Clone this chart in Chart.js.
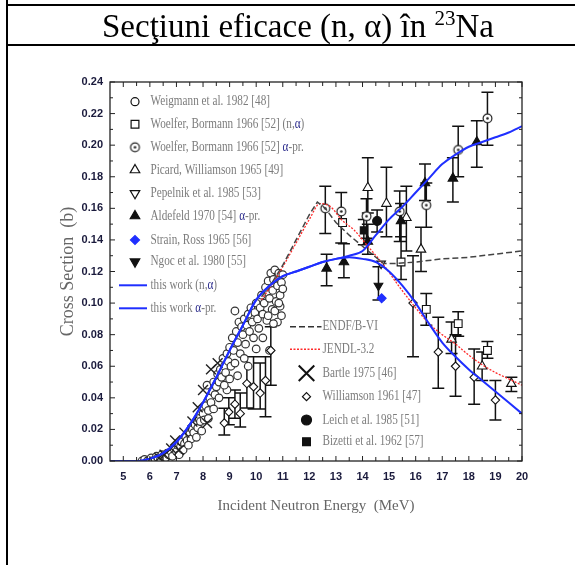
<!DOCTYPE html>
<html>
<head>
<meta charset="utf-8">
<script src="https://cdn.jsdelivr.net/npm/chart.js@4.4.0/dist/chart.umd.min.js"></script>
<style>
  html, body { margin: 0; padding: 0; background: #fff; }
  body { width: 575px; height: 565px; position: relative; overflow: hidden; }
  #chart { position: absolute; left: 0; top: 0; }
  .vline { position: absolute; left: 6px; top: 0; width: 2px; height: 565px; background: #000; }
  .hline { position: absolute; left: 6px; width: 569px; height: 2px; background: #000; }
  .title { position: absolute; left: 8px; width: 580px; top: 10px; text-align: center;
           font: 33px/32px "Liberation Serif", "Times New Roman", serif; color: #000; white-space: nowrap; }
  .title sup { font-size: 21px; vertical-align: 0; position: relative; top: -12px; }
</style>
</head>
<body>
<canvas id="chart" width="575" height="565"></canvas>
<div class="vline"></div>
<div class="hline" style="top:4px"></div>
<div class="hline" style="top:44px"></div>
<div class="title">Secţiuni eficace (n, α) în <sup>23</sup>Na</div>
<script>
// Curves
const workX = [4.5, 5.0, 5.5, 6.0, 6.5, 7.0, 7.5, 8.0, 8.5, 9.0, 9.5, 10.0, 10.5, 11.0, 11.5, 12.0,
  12.5, 13.0, 13.5, 14.0, 14.5, 15.0, 15.5, 16.0, 16.5, 17.0, 17.5, 18.0, 18.5, 19.0, 19.5, 20.0];
const workNA = [0, 0, 0, 0.0015, 0.005, 0.012, 0.023, 0.037, 0.053, 0.070, 0.086, 0.102, 0.111, 0.117,
  0.120, 0.123, 0.126, 0.128, 0.129, 0.128, 0.126, 0.120, 0.111, 0.100, 0.087, 0.075, 0.066, 0.058,
  0.051, 0.044, 0.037, 0.030];
const workAP = [0, 0, 0, 0.0015, 0.005, 0.012, 0.023, 0.037, 0.053, 0.070, 0.086, 0.102, 0.111, 0.117,
  0.120, 0.123, 0.126, 0.128, 0.130, 0.133, 0.143, 0.153, 0.161, 0.170, 0.179, 0.188, 0.194, 0.199,
  0.202, 0.205, 0.208, 0.212];
const endfX = [10.2, 10.6, 11.0, 11.5, 12.0, 12.3, 12.6, 13.0, 13.5, 14.0, 14.5, 14.8, 15.2, 16.0, 17.0, 18.0, 19.0, 20.0];
const endfY = [0.104, 0.113, 0.124, 0.140, 0.156, 0.164, 0.160, 0.151, 0.143, 0.136, 0.129, 0.125, 0.125,
  0.126, 0.128, 0.129, 0.131, 0.133];
const jendlX = [10.2, 10.6, 11.0, 11.5, 12.0, 12.4, 12.8, 13.2, 13.7, 14.2, 14.8, 15.4, 16.0, 16.5, 17.0,
  17.5, 18.0, 18.5, 19.0, 19.5, 20.0];
const jendlY = [0.102, 0.112, 0.123, 0.138, 0.153, 0.163, 0.161, 0.153, 0.146, 0.136, 0.124, 0.110, 0.097,
  0.087, 0.080, 0.074, 0.067, 0.061, 0.056, 0.052, 0.048];

// Measurements [x, y] or [x, y, low, high]
const weigmann = [[5.7,0.000],[5.8,0.001],[5.9,0.000],[6.0,0.001],[6.05,0.002],[6.1,0.000],[6.2,0.001],
  [6.25,0.003],[6.3,0.002],[6.4,0.001],[6.45,0.004],[6.5,0.003],[6.6,0.002],[6.65,0.005],[6.7,0.004],
  [6.8,0.006],[6.85,0.003],[6.9,0.008],[7.0,0.006],[7.05,0.010],[7.1,0.004],[7.15,0.009],[7.2,0.012],
  [7.3,0.011],[7.35,0.015],[7.4,0.013],[7.5,0.017],[7.55,0.014],[7.6,0.020],[7.65,0.018],[7.7,0.023],
  [7.8,0.021],[7.85,0.027],[7.9,0.025],[8.0,0.030],[8.05,0.026],[8.1,0.035],[8.15,0.048],[8.2,0.032],
  [8.25,0.040],[8.3,0.037],[8.35,0.044],[8.4,0.050],[8.45,0.042],[8.5,0.047],[8.55,0.055],[8.6,0.050],
  [8.65,0.058],[8.7,0.053],[8.75,0.065],[8.8,0.060],[8.85,0.056],[8.9,0.068],[8.95,0.063],[9.0,0.072],
  [9.05,0.060],[9.1,0.078],[9.15,0.070],[9.2,0.095],[9.25,0.082],[9.3,0.075],[9.35,0.088],[9.4,0.068],
  [9.45,0.085],[9.5,0.080],[9.55,0.090],[9.6,0.074],[9.65,0.086],[9.7,0.093],[9.75,0.082],[9.8,0.097],
  [9.85,0.088],[9.9,0.078],[9.95,0.094],[10.0,0.100],[10.05,0.090],[10.1,0.084],[10.15,0.097],
  [10.2,0.105],[10.25,0.093],[10.3,0.100],[10.35,0.110],[10.4,0.089],[10.45,0.114],[10.5,0.103],
  [10.55,0.119],[10.6,0.096],[10.62,0.108],[10.65,0.115],[10.7,0.121],[10.75,0.101],[10.8,0.111],
  [10.85,0.119],[10.9,0.105],[10.95,0.113],[11.0,0.109],[10.8,0.088],[10.5,0.070],[9.7,0.060],
  [9.3,0.054],[10.25,0.078],[10.0,0.071],[8.9,0.045],[9.55,0.065],[10.45,0.092],[10.7,0.095],
  [10.9,0.098],[11.0,0.118],[10.95,0.092],[10.85,0.100],[10.65,0.087],[7.25,0.007],[7.45,0.010],
  [7.75,0.015],[7.95,0.019],[8.2,0.027],[8.4,0.033],[8.6,0.040],[8.8,0.048],[9.0,0.052],[9.2,0.062]];
const woelferNA = [[13.25,0.151,null,null],[15.45,0.126,0.115,0.142],[16.4,0.096,0.086,0.106],
  [17.6,0.087,0.079,0.0945],[18.7,0.070,0.065,0.0756]];
const woelferAP = [[12.6,0.160,0.144,0.174],[13.2,0.158,0.138,0.170],[14.15,0.155,0.141,0.166],
  [15.4,0.158,0.139,0.171],[16.4,0.162,0.148,0.176],[17.6,0.197,0.180,0.212],[18.7,0.217,0.200,0.2335]];
const picard = [[14.2,0.173,0.157,0.192],[14.9,0.163,0.142,0.186],[15.65,0.154,0.133,0.174],
  [16.2,0.134,0.120,0.148],[17.35,0.077,0.068,0.088],[18.5,0.060,0.051,0.069],[19.6,0.049,0.044,0.053]];
const pepelnik = [[14.7,0.125,null,null]];
const aldefeld = [[12.65,0.122,0.111,0.131],[13.3,0.126,0.116,0.1375],[14.2,0.139,0.131,0.150],
  [15.45,0.152,0.139,0.163],[16.35,0.176,0.165,0.188],[17.4,0.179,0.164,0.192],[18.3,0.202,0.186,0.2155]];
const strainRoss = [[14.72,0.103,null,null]];
const ngoc = [[14.6,0.111,0.102,0.123]];
const bartle = [[6.35,0.002],[6.55,0.004],[6.8,0.008],[6.95,0.013],[7.1,0.007],[7.3,0.018],[7.6,0.025],
  [7.8,0.034],[8.0,0.045],[8.15,0.024],[8.3,0.058],[8.55,0.062]];
const williamson = [[8.8,0.024,0.0165,0.0334],[8.97,0.031,0.023,0.040],[9.2,0.036,0.027,0.045],
  [9.4,0.030,0.0215,0.043],[9.65,0.049,0.0335,0.066],[9.9,0.047,0.033,0.066],[10.15,0.043,0.033,0.062],
  [10.35,0.051,0.028,0.066],[10.55,0.070,0.048,0.085],[15.9,0.100,0.066,0.130],[16.85,0.069,0.046,0.091],
  [17.5,0.060,0.041,0.080],[18.2,0.053,0.036,0.071],[19.0,0.0386,0.026,0.051]];
const leich = [[14.55,0.152,0.145,0.159]];
const bizetti = [[14.05,0.146,0.137,0.153]];

// Axis
const xMin = 4.5, xMax = 20, xStep = 1;
const yMin = 0, yMax = 0.24, yStep = 0.02;

function pts(list) { return list.map(p => ({ x: p[0], y: p[1] })); }
function errs(list) { return list.map(p => [p[2], p[3]]); }
function curve(xs, ys) { return xs.map((v, i) => ({ x: v, y: ys[i] })); }

function dotCircle(r) {
  const c = document.createElement("canvas");
  const s = Math.ceil(2 * r + 4);
  c.width = s; c.height = s;
  const g = c.getContext("2d");
  g.fillStyle = "#fff"; g.strokeStyle = "#222"; g.lineWidth = 1.2;
  g.beginPath(); g.arc(s / 2, s / 2, r, 0, 2 * Math.PI); g.fill(); g.stroke();
  g.fillStyle = "#222";
  g.beginPath(); g.arc(s / 2, s / 2, 1.3, 0, 2 * Math.PI); g.fill();
  return c;
}
const dotMark = dotCircle(4.4);

const BLUE = "#1f2fff";

function markerSet(label, list, style, opts) {
  return Object.assign({
    label, data: pts(list), err: errs(list), pointStyle: style, pointRadius: 4,
    pointBorderWidth: 1.1, pointBorderColor: "#111", pointBackgroundColor: "#fff", showLine: false,
  }, opts);
}
function lineSet(label, xs, ys, opts) {
  return Object.assign({
    label, data: curve(xs, ys), showLine: true, pointRadius: 0, fill: false,
    cubicInterpolationMode: "monotone",
  }, opts);
}

// Error bars under the markers
const errorBars = {
  id: "errorBars",
  beforeDatasetsDraw(chart) {
    const { ctx, scales: { x, y } } = chart;
    ctx.save();
    ctx.strokeStyle = "#111";
    ctx.lineWidth = 1.5;
    ctx.beginPath();
    chart.data.datasets.forEach((ds) => {
      if (!ds.err) return;
      ds.err.forEach(([lo, hi], i) => {
        if (lo == null) return;
        const px = x.getPixelForValue(ds.data[i].x);
        const p1 = y.getPixelForValue(lo), p2 = y.getPixelForValue(hi);
        ctx.moveTo(px, p1); ctx.lineTo(px, p2);
        ctx.moveTo(px - 6, p1); ctx.lineTo(px + 6, p1);
        ctx.moveTo(px - 6, p2); ctx.lineTo(px + 6, p2);
      });
    });
    ctx.stroke();
    ctx.restore();
  },
};

// Frame with inward ticks on all four sides
const frameTicks = {
  id: "frameTicks",
  afterDatasetsDraw(chart) {
    const { ctx, chartArea: a, scales: { x, y } } = chart;
    ctx.save();
    ctx.strokeStyle = "#222";
    ctx.lineWidth = 1.3;
    ctx.strokeRect(a.left, a.top, a.right - a.left, a.bottom - a.top);
    ctx.lineWidth = 1;
    ctx.beginPath();
    const xv = x.ticks.map(t => t.value);
    xv.forEach((v, i) => {
      const marks = [[v, 5]];
      if (i < xv.length - 1) marks.push([(v + xv[i + 1]) / 2, 4]);
      marks.forEach(([m, len]) => {
        const px = x.getPixelForValue(m);
        ctx.moveTo(px, a.bottom); ctx.lineTo(px, a.bottom - len);
        ctx.moveTo(px, a.top); ctx.lineTo(px, a.top + len);
      });
    });
    const yv = y.ticks.map(t => t.value);
    yv.forEach((v, i) => {
      const marks = [[v, 5]];
      if (i < yv.length - 1) marks.push([(v + yv[i + 1]) / 2, 3]);
      marks.forEach(([m, len]) => {
        const py = y.getPixelForValue(m);
        ctx.moveTo(a.left, py); ctx.lineTo(a.left + len, py);
        ctx.moveTo(a.right, py); ctx.lineTo(a.right - len, py);
      });
    });
    ctx.stroke();
    ctx.restore();
  },
};

// Legend drawn inside the plot
const legendLeft = [
  { text: "Weigmann et al. 1982 [48]", style: "circle", r: 4 },
  { text: "Woelfer, Bormann 1966 [52] (n,α)", style: "rect", r: 5.5 },
  { text: "Woelfer, Bormann 1966 [52] α-pr.", style: dotMark },
  { text: "Picard, Williamson 1965 [49]", style: "triangle", r: 5.5 },
  { text: "Pepelnik et al. 1985 [53]", style: "triangle", r: 5.5, rot: 180 },
  { text: "Aldefeld 1970 [54] α-pr.", style: "triangle", r: 5.5, fill: "#111" },
  { text: "Strain, Ross 1965 [56]", style: "rectRot", r: 4.5, fill: BLUE, stroke: BLUE },
  { text: "Ngoc et al. 1980 [55]", style: "triangle", r: 5.5, rot: 180, fill: "#111" },
  { text: "this work (n,α)", line: BLUE },
  { text: "this work α-pr.", line: BLUE },
];
const legendRight = [
  { text: "ENDF/B-VI", line: "#333", dash: [6, 3] },
  { text: "JENDL-3.2", line: "#ff2a2a", dash: [2, 1.5] },
  { text: "Bartle 1975 [46]", style: "crossRot", r: 11, lw: 2 },
  { text: "Williamson 1961 [47]", style: "rectRot", r: 4 },
  { text: "Leich et al. 1985 [51]", style: "circle", r: 5, fill: "#111" },
  { text: "Bizetti et al. 1962 [57]", style: "rect", r: 5.5, fill: "#111" },
];

function drawLabel(ctx, text, x, y) {
  ctx.save();
  ctx.translate(x, y);
  ctx.scale(0.8, 1);
  ctx.font = '14px "Liberation Serif", "Times New Roman", serif';
  ctx.textBaseline = "middle";
  let cx = 0;
  text.split(/(α)/).forEach((part) => {
    if (!part) return;
    ctx.fillStyle = part === "α" ? "#2b2b8c" : "#7c7c7c";
    ctx.fillText(part, cx, 0);
    cx += ctx.measureText(part).width;
  });
  ctx.restore();
}

function drawBlock(ctx, items, markX, lineX0, lineX1, textX, rows) {
  items.forEach((it, i) => {
    const y = rows[i];
    ctx.save();
    if (it.line) {
      ctx.strokeStyle = it.line;
      ctx.lineWidth = it.dash ? 1.5 : 2;
      ctx.setLineDash(it.dash || []);
      ctx.beginPath(); ctx.moveTo(lineX0, y); ctx.lineTo(lineX1, y); ctx.stroke();
    } else {
      ctx.fillStyle = it.fill || "#fff";
      ctx.strokeStyle = it.stroke || "#111";
      ctx.lineWidth = it.lw || 1.2;
      Chart.helpers.drawPoint(ctx, { pointStyle: it.style, radius: it.r || 4, rotation: it.rot || 0, borderWidth: it.lw || 1.2 }, markX, y);
    }
    ctx.restore();
    drawLabel(ctx, it.text, textX, y);
  });
}

const legendInside = {
  id: "legendInside",
  afterDraw(chart) {
    const { ctx } = chart;
    drawBlock(ctx, legendLeft, 135, 119, 147, 150.5,
      [101.7, 124.3, 147.3, 170, 193.3, 216, 240, 261.7, 285.3, 308.3]);
    drawBlock(ctx, legendRight, 306.5, 290, 321.5, 322.5,
      [326.7, 349.3, 373.3, 396.7, 420, 441.7]);
  },
};

const tickFont = { family: '"Liberation Sans", Arial, sans-serif', size: 11, weight: "bold" };

new Chart(document.getElementById("chart"), {
  type: "scatter",
  data: {
    datasets: [
      lineSet("this work (n,α)", workX, workNA, { borderColor: BLUE, borderWidth: 2 }),
      lineSet("this work α-pr.", workX, workAP, { borderColor: BLUE, borderWidth: 2 }),
      lineSet("ENDF/B-VI", endfX, endfY, { borderColor: "#444", borderWidth: 1.5, borderDash: [6, 3], cubicInterpolationMode: "default", tension: 0 }),
      lineSet("JENDL-3.2", jendlX, jendlY, { borderColor: "#ff2a2a", borderWidth: 1.3, borderDash: [2, 1.5] }),
      markerSet("Strain, Ross 1965 [56]", strainRoss, "rectRot", { pointBackgroundColor: BLUE, pointBorderColor: BLUE, pointRadius: 4.5 }),
      markerSet("Ngoc et al. 1980 [55]", ngoc, "triangle", { pointRotation: 180, pointBackgroundColor: "#111", pointRadius: 5 }),
      markerSet("Leich et al. 1985 [51]", leich, "circle", { pointBackgroundColor: "#111", pointRadius: 4.5 }),
      markerSet("Bizetti et al. 1962 [57]", bizetti, "rect", { pointBackgroundColor: "#111", pointRadius: 5 }),
      markerSet("Pepelnik et al. 1985 [53]", pepelnik, "triangle", { pointRotation: 180, pointRadius: 5 }),
      markerSet("Aldefeld 1970 [54] α-pr.", aldefeld, "triangle", { pointBackgroundColor: "#111", pointRadius: 5.5 }),
      markerSet("Woelfer, Bormann 1966 [52] α-pr.", woelferAP, dotMark),
      markerSet("Woelfer, Bormann 1966 [52] (n,α)", woelferNA, "rect", { pointRadius: 5.5 }),
      markerSet("Picard, Williamson 1965 [49]", picard, "triangle", { pointRadius: 5.5 }),
      markerSet("Williamson 1961 [47]", williamson, "rectRot", { pointRadius: 4.2 }),
      markerSet("Bartle 1975 [46]", bartle, "crossRot", { pointRadius: 7, pointBorderWidth: 1.4, pointBorderColor: "#222" }),
      markerSet("Weigmann et al. 1982 [48]", weigmann, "circle", { pointRadius: 3.8, pointBorderWidth: 1.2, pointBorderColor: "#333" }),
    ],
  },
  options: {
    responsive: false,
    animation: false,
    events: [],
    layout: { padding: { left: 0, top: 82, right: 53, bottom: 0 } },
    plugins: { legend: { display: false }, tooltip: { enabled: false } },
    scales: {
      x: {
        type: "linear", min: xMin, max: xMax,
        grid: { display: false, drawTicks: false },
        border: { display: false },
        ticks: { stepSize: xStep, includeBounds: false, autoSkip: false, maxRotation: 0, padding: 9, color: "#1a1a3c", font: tickFont },
        title: { display: true, text: "Incident Neutron Energy  (MeV)", color: "#666",
          font: { family: '"Liberation Serif", "Times New Roman", serif', size: 15 }, padding: { top: 0, bottom: 50 } },
        afterFit: (s) => { s.height = 104; },
      },
      y: {
        type: "linear", min: yMin, max: yMax,
        grid: { display: false, drawTicks: false },
        border: { display: false },
        ticks: { stepSize: yStep, autoSkip: false, padding: 7, color: "#1a1a3c", font: tickFont,
          callback: (v) => v.toFixed(2) },
        title: { display: true, text: "Cross Section  (b)", color: "#666",
          font: { family: '"Liberation Serif", "Times New Roman", serif', size: 18 }, padding: { top: 57, bottom: 0 } },
        afterFit: (s) => { s.width = 110; },
      },
    },
  },
  plugins: [errorBars, frameTicks, legendInside],
});
</script>
</body>
</html>
